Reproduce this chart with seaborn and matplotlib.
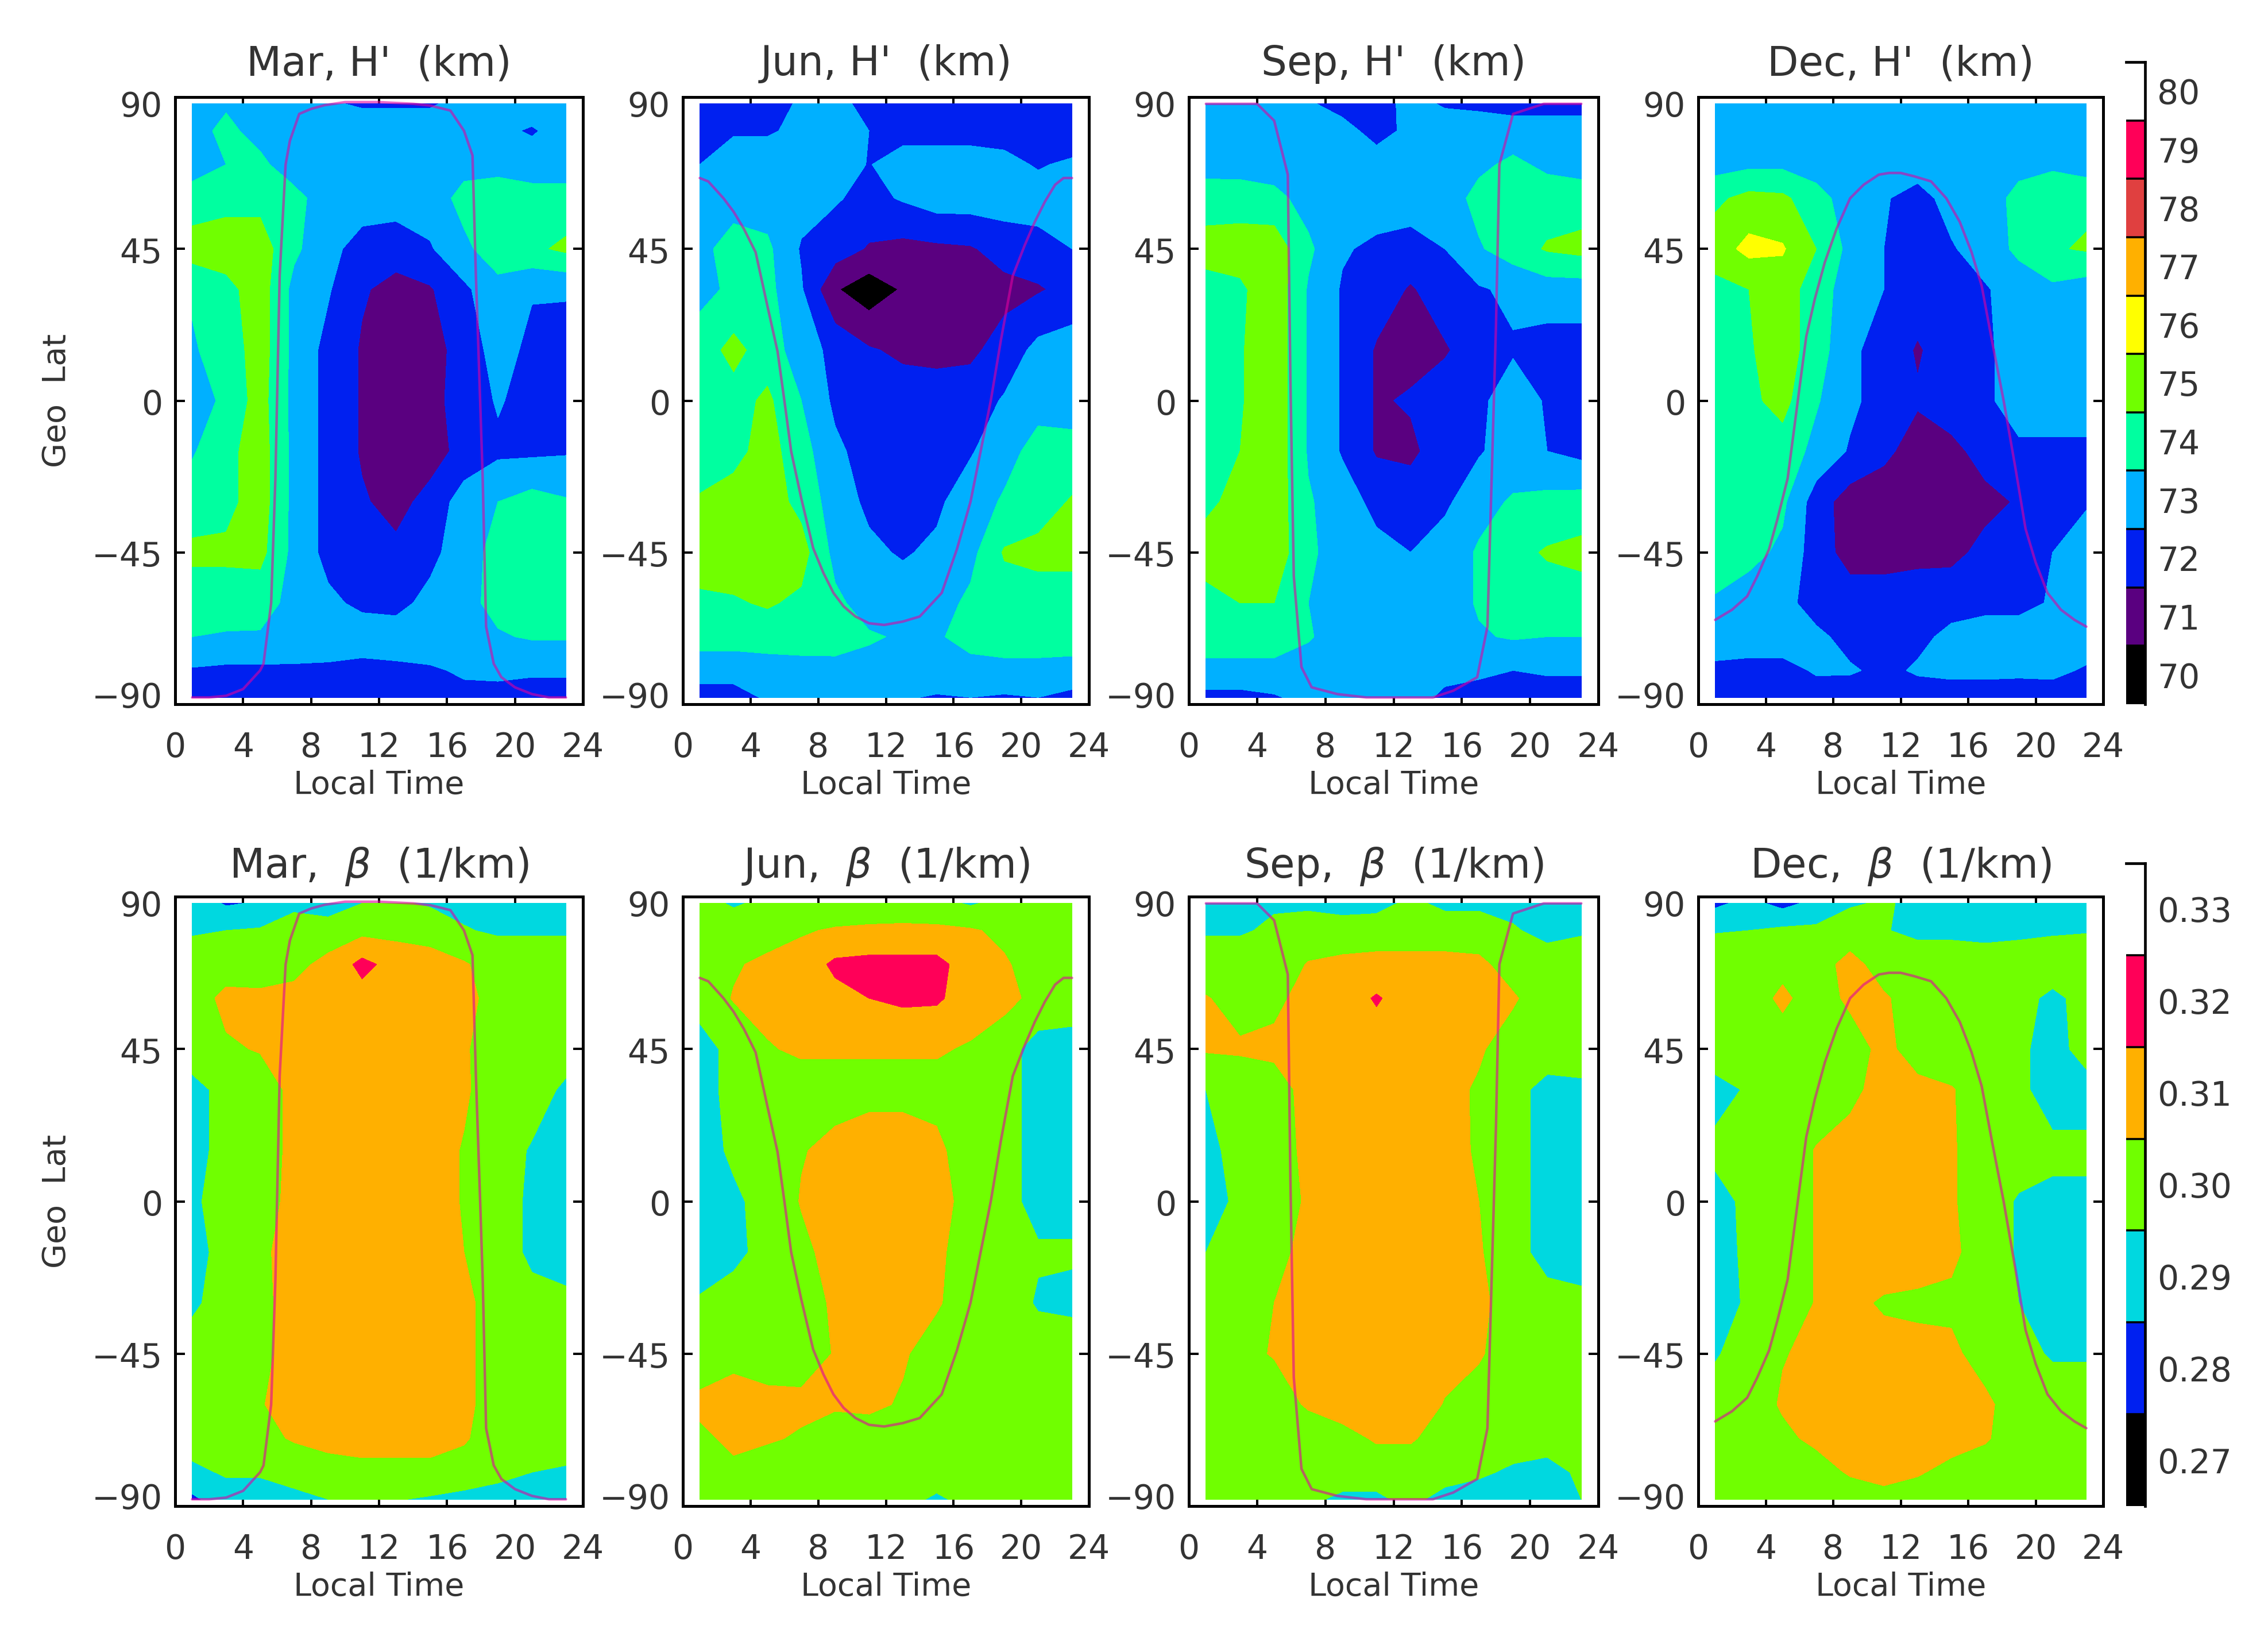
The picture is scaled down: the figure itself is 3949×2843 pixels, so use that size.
import numpy as np
import pandas as pd
import seaborn as sns
import matplotlib.pyplot as plt
from matplotlib.colors import ListedColormap, BoundaryNorm
from matplotlib.transforms import ScaledTranslation

# grid of the maps, rows run north to south
lt = [1, 3, 5, 7, 9, 11, 13, 15, 17, 19, 21, 23]
lat = [88, 80, 70, 60, 45, 33, 15, 0, -15, -30, -45, -60, -70, -80, -88]

months = ["Mar", "Jun", "Sep", "Dec"]
xticks = [0, 4, 8, 12, 16, 20, 24]
yticks = [-90, -45, 0, 45, 90]
ytick_labels = ["\u221290", "\u221245", "0", "45", "90"]

h_labels = [70, 71, 72, 73, 74, 75, 76, 77, 78, 79, 80]
h_colors = ["#000000", "#5a0080", "#0020f0", "#00b0ff", "#00ffa0", "#70ff00", "#ffff00", "#ffb000", "#e04040", "#ff0058", "#ffffff"]
b_labels = [0.27, 0.28, 0.29, 0.30, 0.31, 0.32, 0.33]
b_colors = ["#000000", "#0020f0", "#00d8e0", "#70ff00", "#ffb000", "#ff0058", "#ffffff"]

# H' in km
h_mar = [
    [73.0, 73.4, 73.0, 72.8, 72.6, 72.4, 72.4, 72.4, 72.8, 73.0, 73.0, 73.0],
    [73.2, 73.7, 73.2, 73.0, 73.0, 73.0, 73.0, 73.0, 73.0, 72.7, 72.4, 72.9],
    [73.1, 73.5, 73.7, 73.0, 72.9, 72.9, 72.9, 73.0, 73.2, 73.2, 73.0, 73.0],
    [73.9, 74.2, 74.2, 73.8, 73.0, 73.0, 73.0, 73.0, 73.8, 74.0, 73.9, 73.9],
    [75.0, 75.0, 75.0, 73.7, 72.8, 72.1, 71.9, 72.4, 73.3, 74.0, 74.3, 74.7],
    [73.6, 74.2, 75.0, 73.2, 72.6, 71.6, 71.2, 71.4, 72.3, 73.2, 72.6, 72.6],
    [73.4, 73.9, 75.0, 73.2, 72.2, 71.4, 71.1, 71.2, 71.8, 73.0, 72.2, 72.1],
    [72.8, 73.8, 74.9, 73.2, 72.2, 71.4, 71.1, 71.2, 71.9, 72.6, 72.1, 72.1],
    [73.4, 74.2, 75.0, 73.2, 72.2, 71.4, 71.1, 71.1, 71.8, 72.3, 72.3, 72.4],
    [74.0, 74.2, 75.0, 73.2, 72.2, 71.6, 71.2, 71.8, 73.0, 73.5, 73.9, 73.6],
    [74.7, 74.7, 74.8, 73.2, 72.2, 71.9, 71.7, 72.2, 73.1, 73.8, 74.0, 73.9],
    [74.0, 74.0, 73.9, 73.2, 72.7, 72.3, 72.2, 72.8, 73.2, 73.8, 74.0, 74.0],
    [73.5, 73.4, 73.4, 73.3, 73.1, 73.0, 73.0, 73.0, 73.2, 73.4, 73.6, 73.6],
    [72.4, 72.3, 72.3, 72.3, 72.3, 72.2, 72.3, 72.4, 72.6, 72.7, 72.6, 72.6],
    [72.2, 72.2, 72.1, 72.1, 72.2, 72.1, 72.1, 72.2, 72.3, 72.2, 72.2, 72.2],
]
h_jun = [
    [72.2, 72.2, 72.2, 72.6, 72.7, 72.3, 72.1, 72.0, 71.5, 72.0, 72.1, 72.1],
    [72.2, 72.4, 72.4, 72.7, 73.0, 72.5, 72.1, 72.1, 72.1, 72.1, 72.1, 71.7],
    [72.5, 73.0, 73.0, 73.0, 73.0, 72.45, 73.0, 73.0, 73.0, 72.8, 72.4, 72.7],
    [73.4, 73.2, 73.0, 72.9, 72.6, 72.2, 72.6, 73.0, 73.0, 73.0, 73.0, 73.0],
    [73.3, 73.8, 73.7, 72.4, 72.0, 71.4, 71.2, 71.3, 71.4, 71.9, 72.1, 72.5],
    [73.2, 73.7, 73.8, 72.6, 70.6, 69.9, 70.6, 71.1, 71.1, 71.2, 71.4, 71.8],
    [74.0, 74.8, 74.0, 73.0, 72.2, 71.6, 71.3, 71.2, 71.3, 71.9, 72.8, 73.0],
    [74.0, 74.1, 74.7, 73.5, 72.3, 72.0, 72.0, 72.0, 72.0, 72.6, 73.2, 73.1],
    [74.0, 74.2, 74.9, 73.9, 72.7, 72.1, 72.0, 72.0, 72.4, 73.2, 73.8, 73.8],
    [74.6, 74.9, 75.0, 74.2, 73.0, 72.3, 72.1, 72.3, 73.1, 73.6, 74.0, 74.6],
    [75.0, 75.0, 75.0, 74.9, 73.2, 72.7, 72.4, 72.7, 73.2, 74.6, 74.8, 74.8],
    [74.3, 74.4, 74.6, 74.3, 73.7, 73.1, 73.0, 73.1, 73.7, 74.0, 74.0, 74.0],
    [74.0, 74.0, 74.0, 74.0, 73.9, 73.6, 73.4, 73.4, 73.8, 74.0, 74.0, 73.9],
    [72.8, 72.8, 73.0, 73.1, 73.2, 73.2, 73.2, 73.2, 73.2, 73.2, 73.2, 73.2],
    [72.2, 72.2, 72.6, 72.8, 72.6, 72.7, 72.6, 72.4, 72.5, 72.4, 72.5, 72.2],
]
h_sep = [
    [73.0, 73.0, 73.0, 72.6, 72.2, 72.1, 72.8, 72.4, 72.3, 72.1, 72.1, 72.1],
    [73.0, 73.0, 73.0, 73.0, 72.8, 72.2, 72.7, 73.0, 73.0, 73.0, 73.0, 73.0],
    [73.2, 73.1, 73.0, 73.0, 73.0, 72.9, 73.0, 73.0, 73.3, 73.7, 73.3, 73.1],
    [73.9, 74.0, 73.8, 73.1, 73.0, 73.0, 73.0, 73.0, 73.8, 74.0, 74.0, 74.0],
    [75.0, 75.0, 75.1, 73.7, 72.6, 72.3, 72.1, 72.5, 73.4, 74.0, 74.6, 74.8],
    [74.0, 74.3, 75.2, 73.4, 72.4, 72.0, 71.4, 72.0, 72.4, 72.7, 73.0, 73.0],
    [73.9, 74.4, 75.2, 73.4, 72.4, 71.4, 71.2, 71.4, 72.0, 72.4, 72.1, 72.1],
    [73.7, 74.4, 75.2, 73.4, 72.4, 71.4, 71.6, 72.0, 72.3, 73.0, 72.4, 72.1],
    [73.8, 74.5, 75.2, 73.4, 72.4, 71.4, 71.3, 72.0, 72.4, 73.0, 72.5, 72.2],
    [74.3, 74.8, 75.1, 73.6, 73.0, 72.2, 72.0, 72.3, 73.2, 73.6, 73.8, 73.9],
    [74.9, 75.0, 75.1, 73.7, 73.0, 72.8, 72.5, 73.0, 73.6, 74.2, 74.6, 74.8],
    [74.2, 74.5, 74.5, 73.5, 73.0, 73.0, 73.0, 73.0, 73.6, 74.0, 74.0, 74.0],
    [74.0, 74.0, 74.0, 73.6, 73.0, 73.0, 73.0, 73.0, 73.4, 73.6, 73.5, 73.5],
    [73.2, 73.2, 73.2, 73.0, 73.0, 73.0, 73.0, 72.8, 72.7, 72.5, 72.6, 72.6],
    [72.2, 72.2, 72.4, 72.8, 73.0, 73.0, 72.9, 72.3, 72.1, 72.1, 72.1, 72.1],
]
h_dec = [
    [73.0, 73.0, 73.0, 73.5, 72.9, 72.6, 72.8, 72.9, 72.5, 72.7, 73.0, 73.0],
    [73.0, 73.0, 73.0, 73.0, 73.0, 73.0, 73.0, 73.0, 73.0, 73.0, 73.0, 73.0],
    [73.1, 73.3, 73.3, 73.0, 73.0, 73.0, 73.0, 73.0, 73.0, 73.2, 73.3, 73.0],
    [74.3, 74.8, 74.7, 73.9, 73.0, 72.6, 72.1, 72.9, 73.0, 73.8, 74.3, 74.3],
    [75.0, 75.8, 75.6, 74.5, 73.2, 72.5, 72.1, 72.4, 73.0, 73.7, 74.4, 74.6],
    [74.2, 74.5, 75.0, 74.0, 73.0, 72.5, 72.0, 72.1, 72.4, 73.0, 73.3, 73.0],
    [74.0, 74.4, 75.0, 74.0, 72.7, 72.1, 71.4, 72.0, 72.3, 73.0, 73.0, 73.0],
    [73.9, 74.3, 74.8, 73.6, 72.7, 72.1, 71.6, 72.1, 72.3, 73.0, 73.0, 73.0],
    [73.8, 74.0, 74.1, 73.2, 72.4, 71.7, 71.1, 71.2, 71.9, 72.3, 72.3, 72.3],
    [74.0, 73.9, 73.7, 72.0, 71.0, 71.0, 71.0, 71.1, 71.2, 71.6, 72.2, 72.4],
    [74.4, 73.8, 73.3, 72.0, 71.1, 71.1, 71.2, 71.2, 71.8, 72.2, 72.5, 73.0],
    [73.3, 73.0, 72.8, 72.1, 72.0, 72.0, 72.1, 72.2, 72.2, 72.2, 72.6, 73.0],
    [73.0, 73.0, 73.0, 72.7, 72.2, 72.0, 72.3, 72.7, 73.0, 73.0, 73.0, 73.0],
    [72.3, 72.2, 72.2, 72.6, 72.6, 72.3, 72.6, 72.7, 72.7, 72.7, 72.7, 72.4],
    [72.1, 72.1, 72.1, 72.1, 72.0, 72.0, 72.1, 72.1, 72.1, 72.0, 72.1, 72.1],
]

# beta in 1/km
b_mar = [
    [0.291, 0.284, 0.286, 0.292, 0.289, 0.295, 0.296, 0.294, 0.293, 0.293, 0.293, 0.290],
    [0.294, 0.295, 0.296, 0.301, 0.301, 0.302, 0.302, 0.301, 0.2955, 0.294, 0.294, 0.294],
    [0.300, 0.301, 0.300, 0.303, 0.307, 0.318, 0.311, 0.309, 0.306, 0.300, 0.300, 0.300],
    [0.301, 0.307, 0.307, 0.307, 0.309, 0.311, 0.310, 0.310, 0.308, 0.301, 0.300, 0.300],
    [0.300, 0.304, 0.3055, 0.309, 0.310, 0.310, 0.310, 0.310, 0.306, 0.300, 0.300, 0.300],
    [0.292, 0.298, 0.301, 0.307, 0.310, 0.310, 0.310, 0.310, 0.306, 0.301, 0.300, 0.293],
    [0.292, 0.298, 0.301, 0.307, 0.310, 0.310, 0.310, 0.308, 0.3045, 0.300, 0.294, 0.293],
    [0.293, 0.300, 0.302, 0.307, 0.310, 0.311, 0.310, 0.308, 0.3045, 0.300, 0.293, 0.293],
    [0.292, 0.298, 0.304, 0.307, 0.310, 0.310, 0.310, 0.308, 0.305, 0.300, 0.293, 0.293],
    [0.293, 0.300, 0.303, 0.308, 0.310, 0.310, 0.310, 0.309, 0.307, 0.301, 0.298, 0.296],
    [0.300, 0.300, 0.303, 0.308, 0.310, 0.310, 0.310, 0.310, 0.307, 0.301, 0.300, 0.300],
    [0.300, 0.301, 0.3045, 0.308, 0.310, 0.310, 0.310, 0.310, 0.307, 0.301, 0.300, 0.300],
    [0.299, 0.300, 0.302, 0.306, 0.308, 0.309, 0.309, 0.309, 0.306, 0.300, 0.299, 0.299],
    [0.293, 0.296, 0.296, 0.298, 0.301, 0.302, 0.302, 0.302, 0.301, 0.297, 0.295, 0.294],
    [0.283, 0.291, 0.291, 0.293, 0.295, 0.295, 0.2955, 0.294, 0.292, 0.292, 0.292, 0.292],
]
b_jun = [
    [0.298, 0.294, 0.297, 0.297, 0.298, 0.298, 0.298, 0.298, 0.294, 0.298, 0.298, 0.298],
    [0.300, 0.300, 0.301, 0.304, 0.306, 0.307, 0.3075, 0.307, 0.306, 0.303, 0.300, 0.296],
    [0.300, 0.304, 0.307, 0.309, 0.317, 0.318, 0.318, 0.318, 0.310, 0.306, 0.301, 0.300],
    [0.300, 0.3055, 0.307, 0.309, 0.312, 0.315, 0.317, 0.3165, 0.310, 0.308, 0.302, 0.300],
    [0.290, 0.299, 0.3045, 0.306, 0.306, 0.306, 0.306, 0.306, 0.304, 0.299, 0.291, 0.291],
    [0.290, 0.299, 0.301, 0.302, 0.302, 0.302, 0.302, 0.302, 0.301, 0.299, 0.291, 0.291],
    [0.290, 0.297, 0.300, 0.3045, 0.307, 0.310, 0.310, 0.307, 0.300, 0.298, 0.292, 0.292],
    [0.290, 0.293, 0.299, 0.3055, 0.307, 0.311, 0.311, 0.310, 0.300, 0.298, 0.292, 0.292],
    [0.290, 0.292, 0.299, 0.303, 0.308, 0.310, 0.310, 0.307, 0.300, 0.299, 0.296, 0.296],
    [0.296, 0.300, 0.300, 0.302, 0.306, 0.309, 0.309, 0.306, 0.300, 0.300, 0.294, 0.293],
    [0.300, 0.303, 0.300, 0.301, 0.3055, 0.309, 0.306, 0.301, 0.300, 0.300, 0.300, 0.300],
    [0.307, 0.308, 0.308, 0.307, 0.306, 0.307, 0.304, 0.301, 0.300, 0.300, 0.300, 0.300],
    [0.303, 0.307, 0.306, 0.304, 0.301, 0.300, 0.300, 0.300, 0.300, 0.300, 0.300, 0.300],
    [0.300, 0.303, 0.300, 0.300, 0.300, 0.300, 0.300, 0.300, 0.300, 0.300, 0.300, 0.300],
    [0.300, 0.300, 0.300, 0.300, 0.300, 0.300, 0.298, 0.2935, 0.298, 0.300, 0.300, 0.300],
]
b_sep = [
    [0.288, 0.294, 0.294, 0.293, 0.291, 0.292, 0.297, 0.293, 0.293, 0.292, 0.293, 0.293],
    [0.294, 0.294, 0.2965, 0.300, 0.300, 0.300, 0.300, 0.300, 0.300, 0.296, 0.292, 0.294],
    [0.300, 0.300, 0.300, 0.3055, 0.307, 0.308, 0.308, 0.308, 0.307, 0.301, 0.300, 0.300],
    [0.3055, 0.302, 0.303, 0.308, 0.310, 0.316, 0.310, 0.310, 0.310, 0.306, 0.300, 0.300],
    [0.306, 0.306, 0.307, 0.310, 0.310, 0.310, 0.310, 0.310, 0.306, 0.301, 0.300, 0.300],
    [0.295, 0.300, 0.301, 0.308, 0.310, 0.310, 0.310, 0.3075, 0.304, 0.298, 0.292, 0.293],
    [0.291, 0.300, 0.301, 0.307, 0.310, 0.310, 0.310, 0.3065, 0.3045, 0.298, 0.292, 0.292],
    [0.291, 0.297, 0.301, 0.306, 0.310, 0.310, 0.310, 0.308, 0.305, 0.298, 0.292, 0.292],
    [0.295, 0.300, 0.303, 0.307, 0.310, 0.310, 0.310, 0.308, 0.306, 0.298, 0.292, 0.293],
    [0.300, 0.300, 0.305, 0.308, 0.310, 0.310, 0.310, 0.310, 0.307, 0.301, 0.298, 0.296],
    [0.300, 0.303, 0.3055, 0.307, 0.310, 0.310, 0.310, 0.308, 0.306, 0.300, 0.300, 0.300],
    [0.300, 0.300, 0.301, 0.306, 0.309, 0.310, 0.310, 0.3045, 0.301, 0.300, 0.300, 0.300],
    [0.300, 0.300, 0.300, 0.300, 0.302, 0.306, 0.306, 0.301, 0.300, 0.298, 0.2975, 0.299],
    [0.300, 0.300, 0.300, 0.300, 0.300, 0.300, 0.300, 0.300, 0.296, 0.294, 0.293, 0.296],
    [0.298, 0.300, 0.2995, 0.297, 0.293, 0.293, 0.298, 0.291, 0.292, 0.293, 0.292, 0.295],
]
b_dec = [
    [0.283, 0.288, 0.282, 0.288, 0.294, 0.296, 0.293, 0.292, 0.292, 0.293, 0.293, 0.293],
    [0.2945, 0.295, 0.297, 0.297, 0.300, 0.2955, 0.293, 0.293, 0.292, 0.293, 0.294, 0.2945],
    [0.300, 0.300, 0.302, 0.301, 0.308, 0.301, 0.300, 0.300, 0.300, 0.300, 0.300, 0.300],
    [0.300, 0.300, 0.307, 0.300, 0.307, 0.306, 0.301, 0.300, 0.300, 0.298, 0.293, 0.298],
    [0.300, 0.300, 0.300, 0.300, 0.300, 0.308, 0.300, 0.300, 0.300, 0.296, 0.293, 0.297],
    [0.292, 0.296, 0.300, 0.300, 0.303, 0.308, 0.308, 0.3055, 0.301, 0.296, 0.293, 0.293],
    [0.297, 0.300, 0.300, 0.3055, 0.308, 0.310, 0.310, 0.306, 0.300, 0.300, 0.296, 0.296],
    [0.292, 0.297, 0.300, 0.3055, 0.309, 0.311, 0.310, 0.306, 0.300, 0.294, 0.294, 0.294],
    [0.291, 0.297, 0.300, 0.3055, 0.309, 0.310, 0.310, 0.307, 0.300, 0.294, 0.294, 0.293],
    [0.292, 0.296, 0.300, 0.3055, 0.307, 0.304, 0.303, 0.303, 0.300, 0.295, 0.293, 0.293],
    [0.294, 0.300, 0.3045, 0.307, 0.308, 0.308, 0.308, 0.307, 0.301, 0.298, 0.294, 0.294],
    [0.300, 0.300, 0.306, 0.308, 0.309, 0.309, 0.309, 0.309, 0.307, 0.300, 0.300, 0.300],
    [0.300, 0.300, 0.303, 0.307, 0.309, 0.309, 0.309, 0.309, 0.306, 0.300, 0.300, 0.300],
    [0.300, 0.300, 0.300, 0.301, 0.306, 0.307, 0.306, 0.302, 0.300, 0.300, 0.300, 0.300],
    [0.296, 0.300, 0.297, 0.299, 0.300, 0.303, 0.300, 0.298, 0.300, 0.298, 0.300, 0.300],
]

# terminator curves, same in both rows
mar_lt = [1, 2, 3, 4, 5, 5.2, 5.65, 5.9, 6.15, 6.5, 6.75, 7.3, 8, 8.8, 10, 12, 14, 15, 16.2, 17, 17.5, 17.7, 17.95, 18.1, 18.3, 18.75, 19.2, 20, 21, 22, 23]
mar_lat = [-88, -88, -87.5, -85.5, -80, -78, -60, -23, 37, 70, 77, 85, 86.5, 87.6, 88.5, 88.5, 88, 87.5, 86, 80, 72.7, 37, 0, -23, -67, -78, -82, -85, -87, -88, -88]
jun_lt = [1, 1.5, 2.4, 3, 3.6, 4.3, 5, 5.6, 6, 6.4, 7, 7.7, 8.3, 8.9, 9.5, 10.2, 11, 11.9, 13, 14, 15.3, 16.2, 17, 17.6, 18.2, 18.8, 19.5, 20.2, 20.8, 21.4, 22, 22.5, 23]
jun_lat = [66, 65, 60, 56, 51, 44, 28, 14.5, 0, -15, -29, -43.7, -51, -57, -61, -64, -66, -66.5, -65.5, -64, -57, -44, -30, -15, 0, 18, 37, 46, 53, 59, 64, 66, 66]
sep_lt = [1, 2, 4, 5, 5.8, 5.95, 6.15, 6.6, 7.2, 8.7, 10.4, 14.3, 15.5, 16.9, 17.5, 18, 18.2, 19, 20.8, 23]
sep_lat = [88, 88, 88, 83, 67, 7, -52, -79, -85, -87, -88, -88, -86, -82, -67, 22, 70, 85, 88, 88]
dec_lt = [1, 2, 2.9, 3.5, 4.2, 4.7, 5.3, 5.9, 6.4, 6.9, 7.5, 8.2, 9, 9.8, 10.7, 11.3, 12, 12.8, 13.8, 14.7, 15.5, 16.2, 16.8, 17.4, 18.1, 18.8, 19.4, 20, 20.7, 21.5, 22.3, 23]
dec_lat = [-65, -62, -58, -52, -44, -35, -23, 0, 19, 30, 41, 51, 60, 64, 67, 67.5, 67.5, 66.5, 65, 60, 53, 44, 34, 18, 0, -20, -38, -48, -57, -62, -65, -67]

W, H = 3949, 2843
dpi = 100
panel_x = [(305, 1015), (1189, 1896), (2070, 2783), (2957, 3662)]
row_y = [(169, 1226), (1561, 2622)]
cbar_x = (3702, 3735)
cbar_y = [(108, 1226), (1503, 2622)]

sns.set_style("ticks")
plt.rcParams["font.family"] = ["DejaVu Sans"]
plt.rcParams["mathtext.fontset"] = "dejavusans"
text_color = "#333333"
line_color = "#e000a0"


def new_axes(x, y):
    return fig.add_axes([x[0] / W, 1 - y[1] / H, (x[1] - x[0]) / W, (y[1] - y[0]) / H])


def draw_panel(ax, field, labels, colors, step, term_lt, term_lat, title, show_ylabel, title_pad):
    edges = [labels[0] - step / 2] + [v + step / 2 for v in labels]
    ax.contourf(lt, lat, np.array(field), levels=edges, colors=colors)
    sns.lineplot(x=term_lt, y=term_lat, ax=ax, color=line_color, alpha=0.6, linewidth=3.2, sort=False, errorbar=None)
    ax.set_xlim(0, 24)
    ax.set_ylim(-90, 90)
    ax.set_xticks(xticks)
    ax.set_yticks(yticks)
    ax.set_yticklabels(ytick_labels)
    ax.tick_params(direction="in", top=True, right=True, length=12, width=2.9, labelsize=42, colors="black",
                   labelcolor=text_color)
    ax.tick_params(axis="x", pad=34)
    ax.tick_params(axis="y", pad=16)
    for lab, v in zip(ax.get_yticklabels(), yticks):
        dy = {90: -12, -90: 17}.get(v, -2) / dpi
        lab.set_transform(lab.get_transform() + ScaledTranslation(0, dy, fig.dpi_scale_trans))
    ax.set_xlabel("Local Time", fontsize=40, color=text_color, labelpad=7)
    ax.set_ylabel("Geo  Lat" if show_ylabel else "", fontsize=40, color=text_color, labelpad=24)
    ax.set_title(title, fontsize=51, color=text_color, pad=title_pad)
    for s in ax.spines.values():
        s.set_visible(True)
        s.set_linewidth(3.6)
        s.set_color("black")


def draw_cbar(ax, labels, colors, fmt):
    vals = pd.DataFrame({"v": list(range(len(labels)))[::-1]}, index=[fmt % v for v in labels[::-1]])
    sns.heatmap(vals, ax=ax, cmap=ListedColormap(colors),
                norm=BoundaryNorm(np.arange(len(labels) + 1) - 0.5, len(labels)),
                cbar=False, xticklabels=False, yticklabels=True)
    ax.hlines(range(1, len(labels)), 0, 1, color="black", linewidth=2.6)
    ax.set_ylabel("")
    ax.yaxis.tick_right()
    ax.tick_params(axis="y", length=0, labelsize=42, labelcolor=text_color, labelrotation=0, pad=15)
    for side in ["top", "right"]:
        ax.spines[side].set_visible(True)
        ax.spines[side].set_linewidth(3.4)
        ax.spines[side].set_color("black")
    ax.spines["left"].set_visible(False)
    ax.spines["bottom"].set_visible(False)


fig = plt.figure(figsize=(W / dpi, H / dpi), dpi=dpi)

h_fields = [h_mar, h_jun, h_sep, h_dec]
b_fields = [b_mar, b_jun, b_sep, b_dec]
term = [(mar_lt, mar_lat), (jun_lt, jun_lat), (sep_lt, sep_lat), (dec_lt, dec_lat)]

for i, m in enumerate(months):
    ax = new_axes(panel_x[i], row_y[0])
    draw_panel(ax, h_fields[i], h_labels, h_colors, 1, term[i][0], term[i][1], m + ", H'  (km)", i == 0, 27)
    ax = new_axes(panel_x[i], row_y[1])
    draw_panel(ax, b_fields[i], b_labels, b_colors, 0.01, term[i][0], term[i][1], m + r",  $\beta$  (1/km)", i == 0, 24)

draw_cbar(new_axes(cbar_x, cbar_y[0]), h_labels, h_colors, "%d")
draw_cbar(new_axes(cbar_x, cbar_y[1]), b_labels, b_colors, "%.2f")

fig.savefig("out.png", dpi=dpi)
